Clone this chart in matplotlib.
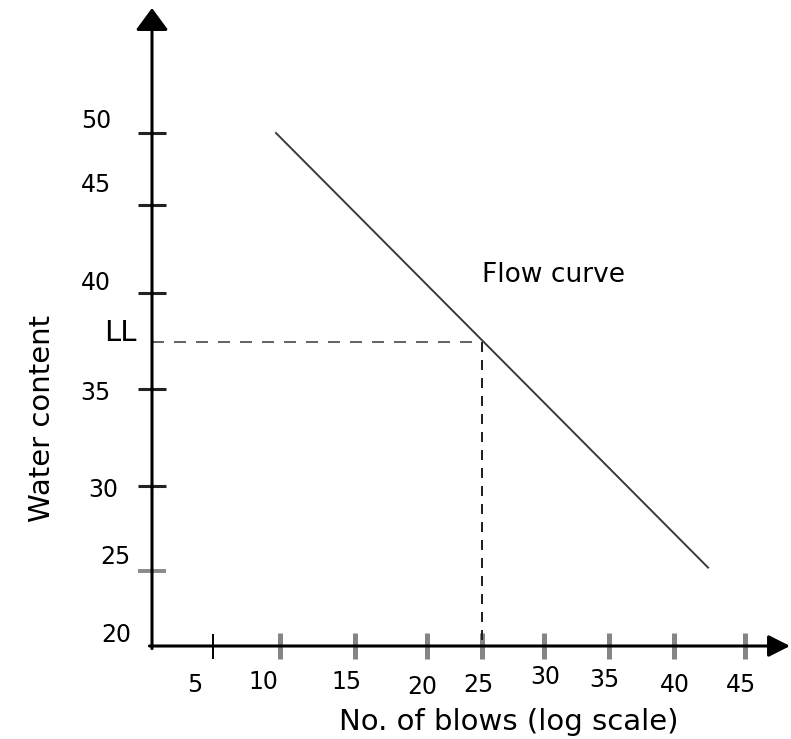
import numpy as np
import matplotlib
matplotlib.use("Agg")
import matplotlib.pyplot as plt

# tick values
blows = [5, 10, 15, 20, 25, 30, 35, 40, 45]
water = [50, 45, 40, 35, 30, 25, 20]

# flow curve end points
curve_blows = [9.7, 42.4]
curve_water = [50.0, 25.2]

# liquid limit, read at 25 blows
ll_blows = 25
ll_water = 37.45

# the sketch is not to scale: pixel distance of each value from the origin
x_vals = [0, 5, 10, 15, 20, 25, 30, 35, 40, 45, 50]
x_pix = [0, 61, 128, 203, 275, 330, 392, 457, 522, 593, 638]
y_vals = [20, 25, 30, 35, 40, 45, 50, 60]
y_pix = [0, 75, 160, 257, 353, 441, 513, 638]

# hand placed labels, nudged in pixels (dx, dy) from their tick
x_lab_off = [(-18, -39), (-17, -36), (-9, -36), (-5, -41), (-4, -39),
             (1, -31), (-5, -34), (1, -39), (-4, -39)]
y_lab_off = [(-41, 12), (-41, 20), (-41, 10), (-41, -4), (-34, -4),
             (-21, 14), (-21, 11)]


def fx(v):
    return np.interp(v, x_vals, x_pix)


def fx_inv(p):
    return np.interp(p, x_pix, x_vals)


def fy(v):
    return np.interp(v, y_vals, y_pix)


def fy_inv(p):
    return np.interp(p, y_pix, y_vals)


W, H = 791, 739
fig = plt.figure(figsize=(W / 100, H / 100), dpi=100)
ax = fig.add_axes([152 / W, (H - 646) / H, 638 / W, 638 / H])
ax.set_xscale("function", functions=(fx, fx_inv))
ax.set_yscale("function", functions=(fy, fy_inv))
ax.set_xlim(0, 50)
ax.set_ylim(20, 60)
for s in ax.spines.values():
    s.set_visible(False)

# axes with arrow heads
ax.annotate("", xy=(0, 1), xytext=(0, -0.004), xycoords="axes fraction",
            arrowprops=dict(arrowstyle="-|>,head_length=0.68,head_width=0.5",
                            mutation_scale=20, lw=2.2, color="black",
                            shrinkA=0, shrinkB=0, joinstyle="round"))
ax.annotate("", xy=(1, 0), xytext=(-0.004, 0), xycoords="axes fraction",
            arrowprops=dict(arrowstyle="-|>,head_length=0.65,head_width=0.33",
                            mutation_scale=20, lw=2.2, color="black",
                            shrinkA=0, shrinkB=0, joinstyle="round"))

# ticks
ax.set_xticks(blows)
ax.set_xticklabels([])
ax.tick_params(axis="x", direction="inout", length=18.7, width=3.6, color="#858585")
t5 = ax.xaxis.get_major_ticks()[0]
t5.tick1line.set_markeredgecolor("black")
t5.tick1line.set_markeredgewidth(1.4)
t5.tick1line.set_markersize(18)

yt = [w for w in water if w > 20]
ax.set_yticks(yt)
ax.set_yticklabels([])
ax.tick_params(axis="y", direction="inout", length=20, width=2.2, color="#222222")
t25 = ax.yaxis.get_major_ticks()[yt.index(25)]
t25.tick1line.set_markeredgecolor("#8a8a8a")
t25.tick1line.set_markeredgewidth(2.8)

for b, (dx, dy) in zip(blows, x_lab_off):
    ax.annotate(str(b), xy=(b, 20), xytext=(dx, dy), textcoords="offset pixels",
                ha="center", va="center", fontsize=17, annotation_clip=False)
for w, (dx, dy) in zip(water, y_lab_off):
    ax.annotate(str(w), xy=(0, w), xytext=(dx, dy), textcoords="offset pixels",
                ha="right", va="center", fontsize=17, annotation_clip=False)
ax.annotate("LL", xy=(0, ll_water), xytext=(-15, 9), textcoords="offset pixels",
            ha="right", va="center", fontsize=21, annotation_clip=False)

# flow curve and liquid limit construction
ax.plot(curve_blows, curve_water, color="#3a3a3a", lw=1.4, clip_on=False)
ax.plot([0, ll_blows], [ll_water, ll_water], color="#666666", lw=1.44,
        dashes=(6, 5), clip_on=False)
ax.plot([ll_blows, ll_blows], [ll_water, 20], color="#222222", lw=1.44,
        dashes=(5, 4), clip_on=False)
ax.text(25, 40.6, "Flow curve", fontsize=19, ha="left", va="baseline")

fig.text(42 / W, 1 - 418 / H, "Water content", rotation=90, ha="center",
         va="center", fontsize=21)
fig.text(509 / W, 1 - 722 / H, "No. of blows (log scale)", ha="center",
         va="center", fontsize=21)

fig.savefig("out.png", dpi=100)
